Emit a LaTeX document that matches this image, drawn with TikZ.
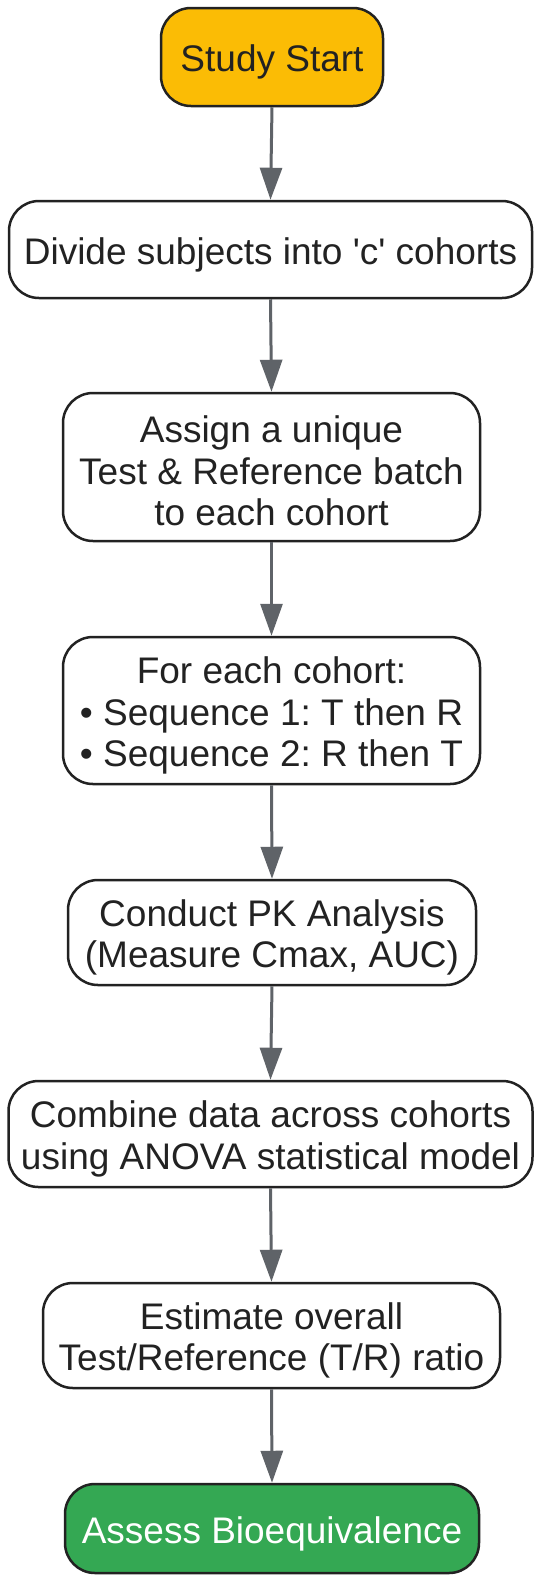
\documentclass[tikz,border=0pt]{standalone}
\usepackage{fontspec}
\setmainfont{Liberation Sans}
\usetikzlibrary{arrows.meta}
\definecolor{txt}{HTML}{222222}
\definecolor{edge}{HTML}{222222}
\definecolor{arr}{HTML}{5F6368}
\definecolor{startfill}{HTML}{FBBC05}
\definecolor{endfill}{HTML}{34A853}
\tikzset{
  box/.style={draw=edge, line width=2.5pt, rounded corners=30pt, fill=white, inner sep=0pt},
  boxtext/.style={text=txt, align=center, inner sep=0pt,
    font=\frenchspacing\fontsize{37}{41.5}\selectfont},
  flow/.style={draw=arr, line width=3pt, -{Triangle[length=32pt,width=22pt]}},
}
\begin{document}
\begin{tikzpicture}[x=1pt,y=-1pt]
\useasboundingbox (0,0) rectangle (534,1575);
\node[box, fill=startfill, minimum width=222pt, minimum height=98pt] (s) at (272,57) {};
\node[box, minimum width=523pt, minimum height=97pt] (d) at (270.5,249.5) {};
\node[box, minimum width=417pt, minimum height=148pt] (a) at (271.5,467) {};
\node[box, minimum width=417pt, minimum height=147pt] (f) at (271.5,710.5) {};
\node[box, minimum width=408pt, minimum height=105pt] (c) at (272,932.5) {};
\node[box, minimum width=524pt, minimum height=106pt] (m) at (270.5,1134) {};
\node[box, minimum width=457pt, minimum height=105pt] (e) at (271.5,1335.5) {};
\node[box, fill=endfill, minimum width=414pt, minimum height=89pt] (b) at (272,1528.5) {};
\node[boxtext] (st) at ([yshift=-5pt]s.center) {Study Start};
\node[boxtext] (dt) at ([yshift=-5pt]d.center) {Divide subjects into \textquotesingle c\textquotesingle{} cohorts};
\node[boxtext] (at) at ([yshift=-4pt]a.center) {Assign a unique\\Test \& Reference batch\\to each cohort};
\node[boxtext] (ft) at ([yshift=-5pt]f.center) {For each cohort:\\• Sequence 1: T then R\\• Sequence 2: R then T};
\node[boxtext] (ct) at ([yshift=-5pt]c.center) {Conduct PK Analysis\\(Measure Cmax, AUC)};
\node[boxtext] (mt) at ([yshift=-5pt]m.center) {Combine data across cohorts\\using ANOVA statistical model};
\node[boxtext] (et) at ([yshift=-5pt]e.center) {Estimate overall\\Test/Reference (T/R) ratio};
\node[boxtext, text=white] (bt) at ([yshift=-5pt]b.center) {Assess Bioequivalence};
\draw[flow] (s.south) -- (d.north);
\draw[flow] (d.south) -- (a.north);
\draw[flow] (a.south) -- (f.north);
\draw[flow] (f.south) -- (c.north);
\draw[flow] (c.south) -- (m.north);
\draw[flow] (m.south) -- (e.north);
\draw[flow] (e.south) -- (b.north);
\end{tikzpicture}
\end{document}
